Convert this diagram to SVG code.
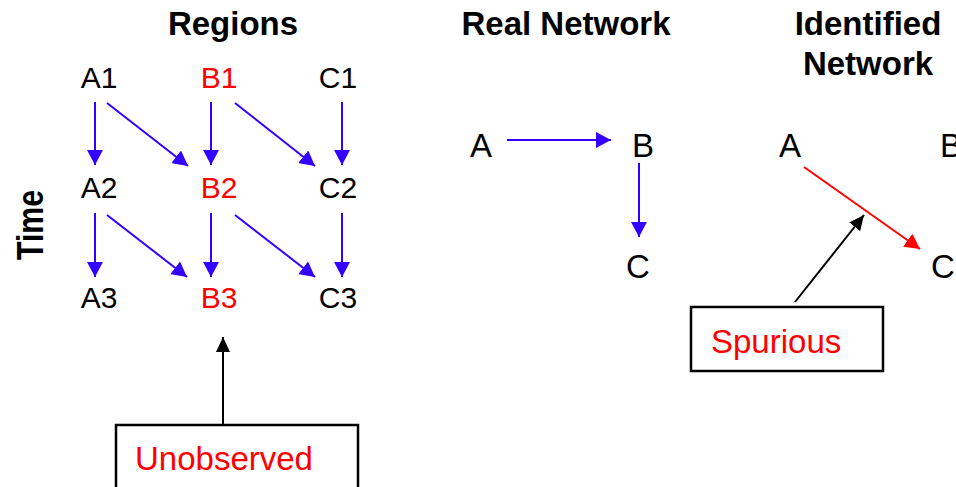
<svg xmlns="http://www.w3.org/2000/svg" width="956" height="487" viewBox="0 0 956 487">
<style>
text{font-family:"Liberation Sans",Arial,sans-serif;fill:#000}
.title{font-weight:bold;font-size:33px;text-anchor:middle}
.grid{font-size:30px;text-anchor:middle}
.net{font-size:33px;text-anchor:middle}
.nets{font-size:33px;text-anchor:start}
.red{fill:#ff0000}
.box{fill:#fff;stroke:#000;stroke-width:2.5}
.blue{stroke:#3300ff;stroke-width:2;fill:none;marker-end:url(#hb)}
.blk{stroke:#000;stroke-width:2;fill:none;marker-end:url(#hk)}
.rd{stroke:#ff0000;stroke-width:2;fill:none;marker-end:url(#hr)}
.lbl{font-size:33px}
</style>
<defs>
<marker id="hb" markerUnits="userSpaceOnUse" markerWidth="16" markerHeight="16" refX="15" refY="8" orient="auto" viewBox="0 0 16 16"><path d="M0,0 L15,8 L0,16 z" fill="#3300ff"/></marker>
<marker id="hk" markerUnits="userSpaceOnUse" markerWidth="16" markerHeight="16" refX="15" refY="8" orient="auto" viewBox="0 0 16 16"><path d="M0,1 L15,8 L0,15 z" fill="#000"/></marker>
<marker id="hr" markerUnits="userSpaceOnUse" markerWidth="16" markerHeight="16" refX="15" refY="8" orient="auto" viewBox="0 0 16 16"><path d="M0,0 L15,8 L0,16 z" fill="#ff0000"/></marker>
</defs>
<rect width="956" height="487" fill="#fff"/>
<g id="titles">
<text class="title" x="233" y="35">Regions</text>
<text class="title" x="566" y="35">Real Network</text>
<text class="title" x="868" y="35">Identified</text>
<text class="title" x="868" y="75">Network</text>
<text font-weight="bold" font-size="36" text-anchor="middle" transform="translate(43,225) rotate(-90)" textLength="70" lengthAdjust="spacingAndGlyphs">Time</text>
</g>
<g id="node-A1"><text class="grid" x="99" y="88">A1</text></g>
<g id="node-B1"><text class="grid red" x="219" y="88">B1</text></g>
<g id="node-C1"><text class="grid" x="338" y="88">C1</text></g>
<g id="node-A2"><text class="grid" x="99" y="198">A2</text></g>
<g id="node-B2"><text class="grid red" x="219" y="198">B2</text></g>
<g id="node-C2"><text class="grid" x="338" y="198">C2</text></g>
<g id="node-A3"><text class="grid" x="99" y="308">A3</text></g>
<g id="node-B3"><text class="grid red" x="219" y="308">B3</text></g>
<g id="node-C3"><text class="grid" x="338" y="308">C3</text></g>
<g id="node-real-A"><text class="net" x="481" y="157">A</text></g>
<g id="node-real-B"><text class="net" x="643" y="157">B</text></g>
<g id="node-real-C"><text class="net" x="638" y="278">C</text></g>
<g id="node-id-A"><text class="net" x="790" y="157">A</text></g>
<g id="node-id-B"><text class="nets" x="940" y="157">B</text></g>
<g id="node-id-C"><text class="nets" x="931" y="278">C</text></g>
<g id="node-unobserved"><rect class="box" x="116" y="425" width="242" height="80"/><text class="lbl red" x="135" y="470">Unobserved</text></g>
<g id="node-spurious"><rect class="box" x="691" y="307" width="192" height="64"/><text class="lbl red" x="711" y="353">Spurious</text></g>
<g id="connectors">
<line class="blue" x1="95" y1="102" x2="95" y2="165"/>
<line class="blue" x1="107" y1="103" x2="188" y2="166"/>
<line class="blue" x1="211" y1="102" x2="211" y2="165"/>
<line class="blue" x1="235" y1="103" x2="315" y2="166"/>
<line class="blue" x1="342" y1="102" x2="342" y2="165"/>
<line class="blue" x1="95" y1="213" x2="95" y2="277"/>
<line class="blue" x1="107" y1="215" x2="187" y2="277"/>
<line class="blue" x1="211" y1="213" x2="211" y2="277"/>
<line class="blue" x1="235" y1="215" x2="315" y2="277"/>
<line class="blue" x1="342" y1="213" x2="342" y2="277"/>
<line class="blue" x1="507" y1="140" x2="611" y2="140"/>
<line class="blue" x1="639" y1="163" x2="639" y2="237"/>
<line class="rd" x1="804" y1="167" x2="920" y2="249"/>
<line class="blk" x1="223" y1="424" x2="223" y2="337"/>
<line class="blk" x1="795" y1="302" x2="864" y2="215"/>
</g>
</svg>
